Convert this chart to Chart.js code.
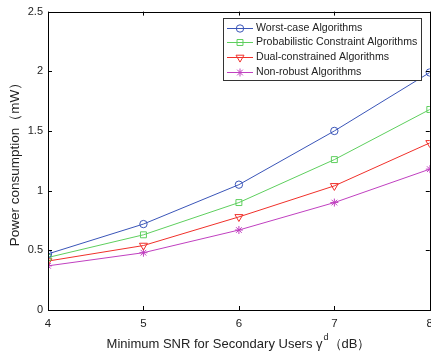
<!DOCTYPE html>
<html>
<head>
<meta charset="utf-8">
<script src="https://cdn.jsdelivr.net/npm/chart.js@4/dist/chart.umd.min.js"></script>
<style>
  html, body { margin: 0; padding: 0; background: #fff; overflow: hidden; }
  #wrap { width: 440px; height: 355px; position: relative; }
</style>
</head>
<body>
<div id="wrap"><canvas id="chart" width="440" height="355"></canvas></div>
<script>
// ====== data ======
const snr = [4, 5, 6, 7, 8];
const worstCase = [0.47, 0.72, 1.05, 1.50, 1.99];
const probabilistic = [0.44, 0.63, 0.90, 1.26, 1.68];
const dualConstrained = [0.41, 0.54, 0.78, 1.04, 1.40];
const nonRobust = [0.37, 0.48, 0.67, 0.90, 1.18];
const yTicks = [0, 0.5, 1, 1.5, 2, 2.5];

const FONT = "'Liberation Sans', Arial, sans-serif";

// ====== box + inward ticks + axis titles ======
const boxPlugin = {
  id: "box",
  afterDraw(c) {
    const ctx = c.ctx, a = c.chartArea;
    const xs = c.scales.x, ys = c.scales.y;
    ctx.save();
    ctx.strokeStyle = "#000";
    ctx.lineWidth = 1;
    ctx.strokeRect(Math.round(a.left) + 0.5, Math.round(a.top) + 0.5,
      Math.round(a.right - a.left), Math.round(a.bottom - a.top));
    ctx.beginPath();
    snr.forEach(v => {
      const x = Math.round(xs.getPixelForValue(v)) + 0.5;
      ctx.moveTo(x, a.bottom); ctx.lineTo(x, a.bottom - 4);
      ctx.moveTo(x, a.top); ctx.lineTo(x, a.top + 4);
    });
    yTicks.forEach(v => {
      const y = Math.round(ys.getPixelForValue(v)) + 0.5;
      ctx.moveTo(a.left, y); ctx.lineTo(a.left + 4, y);
      ctx.moveTo(a.right, y); ctx.lineTo(a.right - 4, y);
    });
    ctx.stroke();

    // y title
    ctx.fillStyle = "#222";
    ctx.font = "13.5px " + FONT;
    ctx.textAlign = "center";
    ctx.textBaseline = "middle";
    ctx.save();
    ctx.translate(15, 161);
    ctx.rotate(-Math.PI / 2);
    ctx.fillText("Power consumption（mW）", 0, 0);
    ctx.restore();

    // x title with superscript
    const main = "Minimum SNR for Secondary Users γ";
    const sup = "d";
    const tail = "（dB）";
    ctx.font = "13px " + FONT;
    const w1 = ctx.measureText(main).width;
    const w3 = ctx.measureText(tail).width;
    ctx.font = "9px " + FONT;
    const w2 = ctx.measureText(sup).width;
    const total = w1 + w2 + w3;
    let x0 = 238 - total / 2;
    const yb = 348;
    ctx.textAlign = "left";
    ctx.textBaseline = "alphabetic";
    ctx.font = "13px " + FONT;
    ctx.fillText(main, x0, yb);
    ctx.font = "9px " + FONT;
    ctx.fillText(sup, x0 + w1 + 1, yb - 8);
    ctx.font = "13px " + FONT;
    ctx.fillText(tail, x0 + w1 + w2 + 1, yb);
    ctx.restore();
  }
};

function series(label, data, color, style, radius, rotation) {
  return {
    label, data,
    borderColor: color,
    backgroundColor: "rgba(0,0,0,0)",
    borderWidth: 1,
    pointStyle: style,
    pointRadius: radius,
    pointRotation: rotation || 0,
    pointBorderColor: color,
    pointBackgroundColor: "rgba(0,0,0,0)",
    pointBorderWidth: 1,
    tension: 0
  };
}

const chart = new Chart(document.getElementById("chart"), {
  type: "line",
  data: {
    datasets: [
      series("Worst-case Algorithms", snr.map((x, i) => ({ x, y: worstCase[i] })), "#3a55b8", "circle", 3.7),
      series("Probabilistic Constraint Algorithms", snr.map((x, i) => ({ x, y: probabilistic[i] })), "#5ecf5e", "rect", 4.2),
      series("Dual-constrained Algorithms", snr.map((x, i) => ({ x, y: dualConstrained[i] })), "#f0302a", "triangle", 4.6, 180),
      series("Non-robust Algorithms", snr.map((x, i) => ({ x, y: nonRobust[i] })), "#c040c0", "star", 4)
    ]
  },
  options: {
    responsive: false,
    animation: false,
    layout: { padding: { top: 6, right: 8, left: 0, bottom: 0 } },
    plugins: {
      legend: { display: false },
      tooltip: { enabled: false }
    },
    scales: {
      x: {
        type: "linear",
        min: 4, max: 8,
        afterFit: s => { s.height = 45; },
        afterBuildTicks: s => { s.ticks = snr.map(v => ({ value: v })); },
        grid: { display: false, drawTicks: false },
        border: { display: false },
        ticks: { color: "#222", font: { family: FONT, size: 11.5 }, padding: 7, maxRotation: 0,
                 callback: v => String(v) }
      },
      y: {
        min: 0, max: 2.5,
        afterFit: s => { s.width = 48; },
        afterBuildTicks: s => { s.ticks = yTicks.map(v => ({ value: v })); },
        grid: { display: false, drawTicks: false },
        border: { display: false },
        ticks: { color: "#222", font: { family: FONT, size: 11 }, padding: 5,
                 callback: v => String(v) }
      }
    }
  },
  plugins: [boxPlugin, {
    id: "legendBox",
    afterDraw(c) {
      const ctx = c.ctx;
      const lx = 223, ly = 18, lw = 198, lh = 62;
      ctx.save();
      ctx.fillStyle = "#fff";
      ctx.fillRect(lx, ly, lw, lh);
      ctx.strokeStyle = "#333";
      ctx.lineWidth = 1;
      ctx.strokeRect(lx + 0.5, ly + 0.5, lw, lh);
      c.data.datasets.forEach((d, i) => {
        const y = Math.round(ly + 9.5 + i * 14.7) + 0.5;
        ctx.strokeStyle = d.borderColor;
        ctx.lineWidth = 1;
        ctx.beginPath();
        ctx.moveTo(227, y);
        ctx.lineTo(253, y);
        ctx.stroke();
        ctx.fillStyle = "rgba(0,0,0,0)";
        Chart.helpers.drawPoint(ctx, {
          pointStyle: d.pointStyle, radius: d.pointRadius, rotation: d.pointRotation,
          borderWidth: 1
        }, 240, y);
        ctx.fillStyle = "#222";
        ctx.font = "10.6px " + FONT;
        ctx.textBaseline = "middle";
        ctx.textAlign = "left";
        ctx.fillText(d.label, 256, y);
      });
      ctx.restore();
    }
  }]
});
</script>
</body>
</html>
